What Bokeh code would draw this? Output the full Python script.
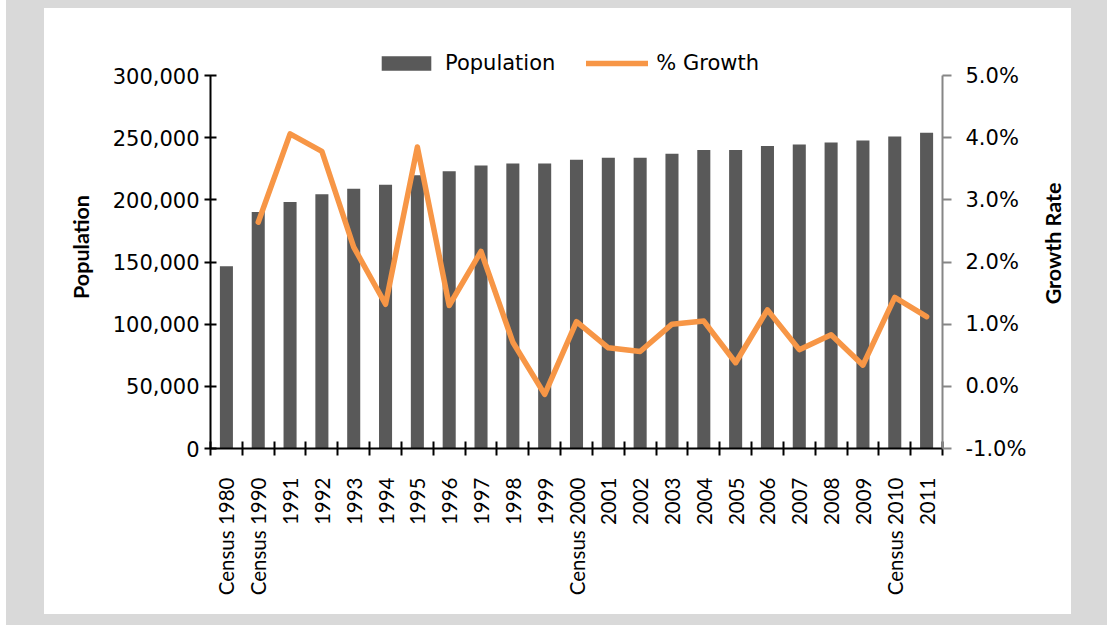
import math
from bokeh.plotting import figure
from bokeh.models import (Range1d, LinearAxis, FixedTicker, NumeralTickFormatter,
                          Legend, LegendItem, ColumnDataSource, Spacer, Label)
from bokeh.layouts import row, column
from bokeh.embed import file_html
from bokeh.resources import INLINE

categories = ["Census 1980", "Census 1990", "1991", "1992", "1993", "1994", "1995",
              "1996", "1997", "1998", "1999", "Census 2000", "2001", "2002", "2003",
              "2004", "2005", "2006", "2007", "2008", "2009", "Census 2010", "2011"]
population = [146500, 190200, 198200, 204400, 209000, 212200, 219700, 222900, 227700,
              229300, 229300, 232300, 233900, 233900, 237100, 240000, 240000, 243300,
              244600, 246200, 247800, 251000, 254000]
growth_pct = [float("nan"), 2.64, 4.06, 3.78, 2.24, 1.32, 3.85, 1.30, 2.17, 0.71, -0.13,
              1.04, 0.62, 0.56, 1.00, 1.05, 0.38, 1.23, 0.59, 0.83, 0.34, 1.43, 1.12]
pop_ticks = [0, 50000, 100000, 150000, 200000, 250000, 300000]
growth_ticks = [-0.01, 0.0, 0.01, 0.02, 0.03, 0.04, 0.05]

GRAY_BG = "#d9d9d9"
BAR = "#595959"
ORANGE = "#f79646"

# layout: axis span of 373 px, plus headroom inside the frame for the legend
AXIS_PX = 373
HEAD_PX = 30
scale = (AXIS_PX + HEAD_PX) / AXIS_PX
pop_lo, pop_hi = pop_ticks[0], pop_ticks[-1]
gr_lo, gr_hi = growth_ticks[0], growth_ticks[-1]

idx = list(range(len(categories)))
src = ColumnDataSource(dict(x=idx, pop=population, growth=[g / 100 for g in growth_pct]))

p = figure(frame_width=732, frame_height=AXIS_PX + HEAD_PX,
           min_border_left=166, min_border_right=129, min_border_top=37, min_border_bottom=166,
           x_range=Range1d(-0.5, len(categories) - 0.5),
           y_range=Range1d(pop_lo, pop_lo + (pop_hi - pop_lo) * scale),
           output_backend="svg", toolbar_location=None, tools="")
p.background_fill_color = "white"
p.border_fill_color = "white"
p.outline_line_color = None
p.xgrid.visible = False
p.ygrid.visible = False
p.extra_y_ranges = {"growth": Range1d(gr_lo, gr_lo + (gr_hi - gr_lo) * scale)}

bars = p.vbar(x="x", top="pop", width=0.41, bottom=0, source=src,
              fill_color=BAR, line_color=None)
line = p.line(x="x", y="growth", source=src, y_range_name="growth",
              line_color=ORANGE, line_width=5.5, line_join="round", line_cap="round")

# bottom axis
xa = p.xaxis[0]
xa.ticker = FixedTicker(ticks=idx, minor_ticks=[i - 0.5 for i in range(len(categories) + 1)])
xa.major_label_overrides = {i: c for i, c in zip(idx, categories)}
xa.major_label_orientation = math.pi / 2
xa.major_label_text_font = "Lato"
xa.major_label_text_font_size = "20.5px"
xa.major_label_text_color = "black"
xa.major_label_standoff = 22
xa.major_tick_line_color = None
xa.major_tick_in = 0
xa.major_tick_out = 0
xa.minor_tick_line_color = "black"
xa.minor_tick_line_width = 2
xa.minor_tick_in = 7
xa.minor_tick_out = 7
xa.axis_line_color = "black"
xa.axis_line_width = 2

# left axis
ya = p.yaxis[0]
ya.ticker = FixedTicker(ticks=pop_ticks)
ya.bounds = (pop_lo, pop_hi)
ya.formatter = NumeralTickFormatter(format="0,0")
ya.major_label_text_font = "DejaVu Sans"
ya.major_label_text_font_size = "21px"
ya.major_label_text_color = "black"
ya.major_label_standoff = 5
ya.major_tick_in = 6
ya.major_tick_out = 6
ya.major_tick_line_color = "black"
ya.major_tick_line_width = 2
ya.minor_tick_line_color = None
ya.axis_line_color = "black"
ya.axis_line_width = 2
ya.axis_label = "Population"
ya.axis_label_text_font = "Lato"
ya.axis_label_text_font_style = "bold"
ya.axis_label_text_font_size = "21.5px"
ya.axis_label_text_color = "black"
ya.axis_label_standoff = 16

# right axis
ra = LinearAxis(y_range_name="growth", ticker=FixedTicker(ticks=growth_ticks),
                formatter=NumeralTickFormatter(format="0.0%"), bounds=(gr_lo, gr_hi))
ra.major_label_text_font = "DejaVu Sans"
ra.major_label_text_font_size = "21px"
ra.major_label_text_color = "black"
ra.major_label_standoff = 14
ra.major_tick_in = 0
ra.major_tick_out = 9
ra.major_tick_line_color = "#868686"
ra.major_tick_line_width = 2
ra.minor_tick_line_color = None
ra.axis_line_color = "#868686"
ra.axis_line_width = 2
p.add_layout(ra, "right")

# right-hand axis title, reading bottom-to-top, placed in its own side panel
right_title = Label(text="Growth Rate", x=10, y=AXIS_PX + HEAD_PX - 198,
                    x_units="screen", y_units="screen", angle=math.pi / 2,
                    text_align="center", text_baseline="top",
                    text_font="Lato", text_font_style="bold", text_font_size="21.5px",
                    text_color="black")
p.add_layout(right_title, "right")

legend = Legend(items=[LegendItem(label="Population", renderers=[bars]),
                       LegendItem(label="% Growth", renderers=[line])],
                orientation="horizontal", location=(165, AXIS_PX),
                border_line_color=None, background_fill_alpha=0,
                glyph_width=62, glyph_height=18, label_standoff=8, spacing=31,
                padding=0, margin=0,
                label_text_font="DejaVu Sans", label_text_font_size="21px",
                label_text_color="black")
p.add_layout(legend)

gray = {"background-color": GRAY_BG}
white = {"background-color": "white"}
layout = row(Spacer(width=6, height=625, styles=white),
             Spacer(width=38, height=625, styles=gray),
             column(Spacer(width=1027, height=8, styles=gray),
                    p,
                    Spacer(width=1027, height=11, styles=gray)),
             Spacer(width=36, height=625, styles=gray))

open("out.html", "w").write(file_html(layout, INLINE))
